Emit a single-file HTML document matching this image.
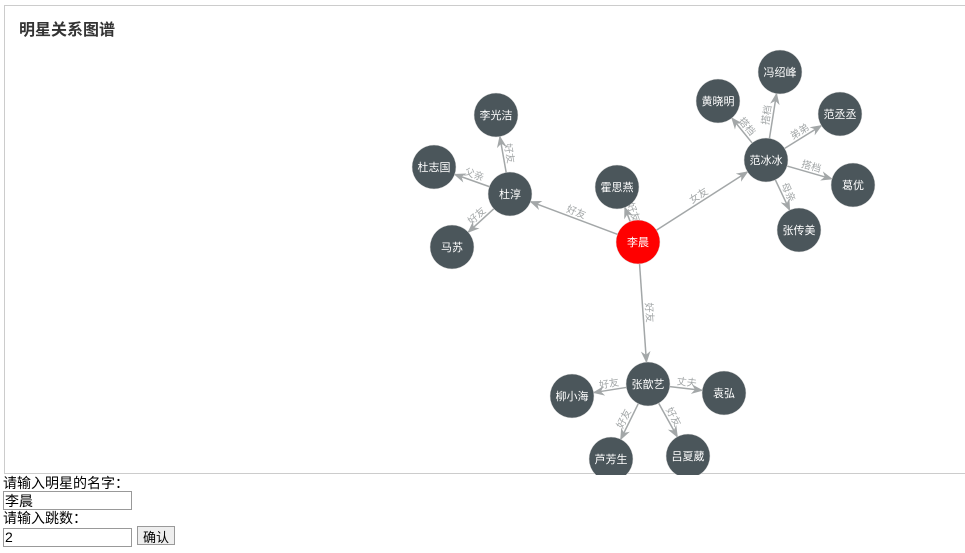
<!DOCTYPE html>
<html><head><meta charset="utf-8"><style>
body{margin:0;width:965px;height:553px;overflow:hidden;background:#fff;font-family:"Liberation Sans","Noto Sans CJK SC",sans-serif;}
#chart{position:absolute;left:4px;top:5px;width:961px;height:469px;border:1px solid #ccc;border-right:none;box-sizing:border-box;}
#form{position:absolute;left:3px;top:475px;font-size:14px;line-height:16px;color:#000;}
input{font-family:"Liberation Sans","Noto Sans CJK SC",sans-serif;font-size:14px;width:129px;height:19px;box-sizing:border-box;border:1px solid #999;padding:0 1px;margin:0;}
button{font-family:"Liberation Sans","Noto Sans CJK SC",sans-serif;font-size:13px;height:19px;padding:0 5px;margin-left:5px;border:1px solid #999;background:#eee;}
</style></head><body>
<div id="chart">
<svg id="svg" width="961" height="469" xmlns="http://www.w3.org/2000/svg">
<defs>
<marker id="arr" viewBox="0 0 10 10" refX="9" refY="5" markerWidth="8" markerHeight="8" orient="auto"><path d="M0,1 L10,5 L0,9 L3,5z" fill="#a3a7a8"/></marker>
</defs>
<text x="14" y="29" font-size="16" font-weight="bold" fill="#333">明星关系图谱</text>
<g id="edges"></g><g id="nodes"></g>
</svg>
</div>
<div id="form">
<div>请输入明星的名字：</div>
<input value="李晨"><br>
<div>请输入跳数：</div>
<input value="2"><button>确认</button>
</div>
<script>
const names=["李晨","霍思燕","杜淳","李光洁","杜志国","马苏","范冰冰","黄晓明","冯绍峰","范丞丞","葛优","张传美","张歆艺","柳小海","袁弘","芦芳生","吕夏葳"];
const nodeX=[633,612,505,491,429,447,761,713,775,835,848,794,643,567,719,606,683];
const nodeY=[236,181,188,109,161,241,154,95,66,108,179,224,378,390,387,453,450];
const edgeSrc=[0,0,0,0,2,2,2,6,6,6,6,6,12,12,12,12];
const edgeTgt=[1,2,6,12,3,4,5,7,8,9,10,11,13,14,15,16];
const edgeLabels=["好友","好友","女友","好友","好友","父亲","好友","搭档","搭档","弟弟","搭档","母亲","好友","丈夫","好友","好友"];
const R=22,NS="http://www.w3.org/2000/svg";
const eg=document.getElementById('edges'),ng=document.getElementById('nodes');
for(let i=0;i<edgeSrc.length;i++){
  const s=edgeSrc[i],t=edgeTgt[i];
  const x1=nodeX[s],y1=nodeY[s],x2=nodeX[t],y2=nodeY[t];
  const dx=x2-x1,dy=y2-y1,d=Math.hypot(dx,dy),ux=dx/d,uy=dy/d;
  const l=document.createElementNS(NS,'line');
  
  
  l.setAttribute('x1',x1+ux*R);l.setAttribute('y1',y1+uy*R);
  l.setAttribute('x2',x2-ux*R);l.setAttribute('y2',y2-uy*R);
  l.setAttribute('stroke','#a3a7a8');l.setAttribute('stroke-width','1.5');
  l.setAttribute('marker-end','url(#arr)');
  eg.appendChild(l);
  let ang=Math.atan2(dy,dx)*180/Math.PI; if(ang>90)ang-=180; if(ang<-90)ang+=180;
  const mx=(x1+x2)/2,my=(y1+y2)/2;
  const tx=document.createElementNS(NS,'text');
  
  
  tx.setAttribute('x',mx);tx.setAttribute('y',my-3);
  tx.setAttribute('text-anchor','middle');tx.setAttribute('font-size','10');tx.setAttribute('fill','#a3a7a8');
  tx.setAttribute('transform','rotate('+ang+' '+mx+' '+my+')');
  tx.textContent=edgeLabels[i];eg.appendChild(tx);
}
for(let i=0;i<names.length;i++){
  const c=document.createElementNS(NS,'circle');
  
  
  c.setAttribute('cx',nodeX[i]);c.setAttribute('cy',nodeY[i]);c.setAttribute('r',R);
  c.setAttribute('fill',i===0?'#ff0000':'#4b565b');c.setAttribute('stroke','#ddd');c.setAttribute('stroke-width','0.5');
  ng.appendChild(c);
  const t=document.createElementNS(NS,'text');
  
  
  t.setAttribute('x',nodeX[i]);t.setAttribute('y',nodeY[i]+4);t.setAttribute('text-anchor','middle');
  t.setAttribute('font-size','11');t.setAttribute('fill','#fff');
  t.textContent=names[i];ng.appendChild(t);
}
</script>
</body></html>
